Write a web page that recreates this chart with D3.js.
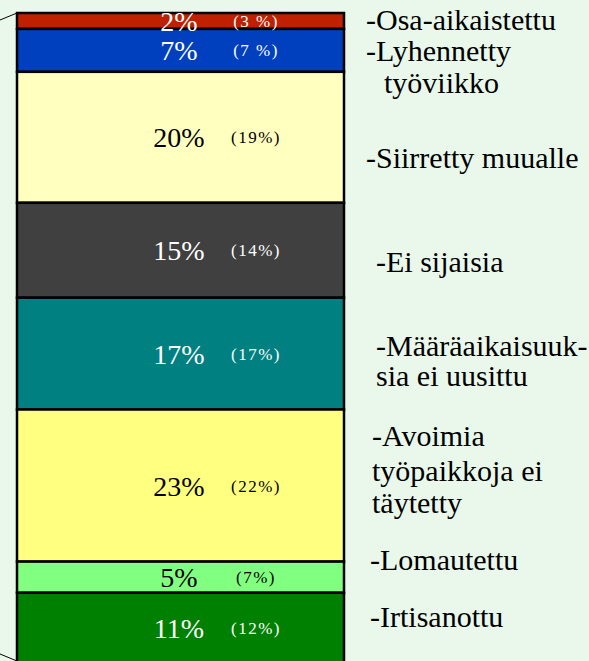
<!DOCTYPE html>
<html>
<head>
<meta charset="utf-8">
<script src="https://cdn.jsdelivr.net/npm/d3@7"></script>
<style>
  body { margin: 0; background: #e9f8eb; }
  svg { display: block; }
</style>
</head>
<body>
<svg id="chart"></svg>
<script>
// Stacked share bar, top to bottom
const categories = ["Osa-aikaistettu", "Lyhennetty työviikko", "Siirretty muualle", "Ei sijaisia",
    "Määräaikaisuuksia ei uusittu", "Avoimia työpaikkoja ei täytetty", "Lomautettu", "Irtisanottu"];
const shares = [2.45, 6.6, 20.15, 14.6, 17.2, 23.4, 4.8, 10.8];
const mainLabels = ["2%", "7%", "20%", "15%", "17%", "23%", "5%", "11%"];
const prevLabels = ["(3 %)", "(7 %)", "(19%)", "(14%)", "(17%)", "(22%)", "(7%)", "(12%)"];
const colors = ["#bf2000", "#0040bf", "#ffffc0", "#404040", "#008080", "#ffff80", "#80ff80", "#008000"];
const textColors = ["#fff", "#fff", "#000", "#fff", "#fff", "#000", "#000", "#fff"];

// legend lines, text and baseline
const legendLines = [
    {text: "-Osa-aikaistettu", x: 366, y: 30},
    {text: "-Lyhennetty", x: 366, y: 61},
    {text: "työviikko", x: 384, y: 93},
    {text: "-Siirretty muualle", x: 366, y: 168},
    {text: "-Ei sijaisia", x: 376, y: 272},
    {text: "-Määräaikaisuuk-", x: 376, y: 356},
    {text: "sia ei uusittu", x: 376, y: 386},
    {text: "-Avoimia", x: 372, y: 446},
    {text: "työpaikkoja ei", x: 372, y: 481},
    {text: "täytetty", x: 372, y: 513},
    {text: "-Lomautettu", x: 370, y: 570},
    {text: "-Irtisanottu", x: 370, y: 627}
];

const width = 589, height = 661;
const barLeft = 17, barRight = 344;
const serif = "'Liberation Serif', 'Times New Roman', serif";

const svg = d3.select("#chart")
    .attr("width", width)
    .attr("height", height);

const y = d3.scaleLinear().domain([0, d3.sum(shares)]).range([13, 663]);

let acc = 0;
const segs = shares.map((v, i) => {
    const s = {i: i, y0: acc, y1: acc + v};
    acc += v;
    return s;
});

// connector lines off to the left
svg.append("line")
    .attr("x1", 0).attr("y1", y(0) + 7)
    .attr("x2", barLeft).attr("y2", y(0))
    .attr("stroke", "#000").attr("stroke-width", 1);
svg.append("line")
    .attr("x1", 0).attr("y1", y(acc) - 9)
    .attr("x2", barLeft).attr("y2", y(acc) - 2)
    .attr("stroke", "#000").attr("stroke-width", 1);

svg.selectAll("rect.seg")
    .data(segs)
    .join("rect")
    .attr("class", "seg")
    .attr("x", barLeft)
    .attr("y", d => y(d.y0))
    .attr("width", barRight - barLeft)
    .attr("height", d => y(d.y1) - y(d.y0))
    .attr("fill", d => colors[d.i])
    .attr("stroke", "#000")
    .attr("stroke-width", 2.5);

svg.selectAll("text.main")
    .data(segs)
    .join("text")
    .attr("class", "main")
    .attr("x", 179)
    .attr("y", d => (y(d.y0) + y(d.y1)) / 2 + 10)
    .attr("text-anchor", "middle")
    .attr("fill", d => textColors[d.i])
    .attr("font-family", serif)
    .attr("font-size", 28)
    .text(d => mainLabels[d.i]);

svg.selectAll("text.prev")
    .data(segs)
    .join("text")
    .attr("class", "prev")
    .attr("x", 256)
    .attr("y", d => (y(d.y0) + y(d.y1)) / 2 + 6)
    .attr("text-anchor", "middle")
    .attr("fill", d => textColors[d.i])
    .attr("font-family", serif)
    .attr("font-size", 17)
    .attr("letter-spacing", 1.5)
    .text(d => prevLabels[d.i]);

svg.selectAll("text.legend")
    .data(legendLines)
    .join("text")
    .attr("class", "legend")
    .attr("x", d => d.x)
    .attr("y", d => d.y)
    .attr("fill", "#000")
    .attr("font-family", serif)
    .attr("font-size", 30)
    .text(d => d.text);
</script>
</body>
</html>
